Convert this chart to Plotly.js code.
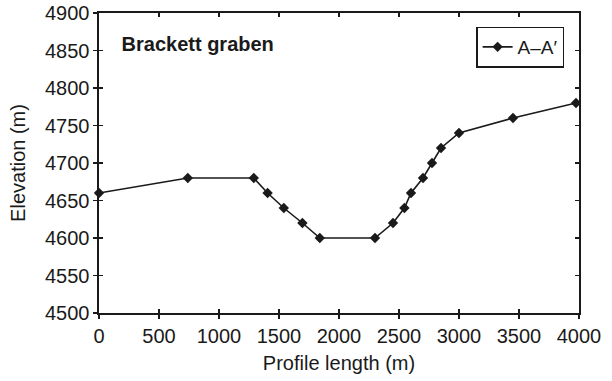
<!DOCTYPE html>
<html>
<head>
<meta charset="utf-8">
<script src="https://cdn.plot.ly/plotly-3.0.1.min.js"></script>
<style>
html,body{margin:0;padding:0;background:#fff;}
#chart{width:612px;height:381px;}
</style>
</head>
<body>
<div id="chart"></div>
<script>
// Data
const profileLength = [0, 740, 1290, 1405, 1540, 1695, 1840, 2300, 2450, 2545, 2600, 2700, 2775, 2850, 3000, 3450, 3975];
const elevation = [4660, 4680, 4680, 4660, 4640, 4620, 4600, 4600, 4620, 4640, 4660, 4680, 4700, 4720, 4740, 4760, 4780];
const xTicks = [0, 500, 1000, 1500, 2000, 2500, 3000, 3500, 4000];
const yTicks = [4500, 4550, 4600, 4650, 4700, 4750, 4800, 4850, 4900];
const seriesName = 'A\u2013A\u2032';
const chartTitle = 'Brackett graben';
const xTitle = 'Profile length (m)';
const yTitle = 'Elevation (m)';

const FONT = 'Liberation Sans, Arial, Helvetica, sans-serif';
const INK = '#1a1a1a';

const trace = {
  x: profileLength,
  y: elevation,
  type: 'scatter',
  mode: 'lines+markers',
  name: seriesName,
  line: {color: INK, width: 1.6},
  marker: {symbol: 'diamond', size: 8, color: INK},
  cliponaxis: false
};

// empty helper trace so the overlaid tick-only axes get drawn (no marks)
const tickAxesTrace = {
  x: [], y: [], type: 'scatter', mode: 'markers',
  xaxis: 'x2', yaxis: 'y2', showlegend: false, hoverinfo: 'skip'
};

const xRange = [xTicks[0], xTicks[xTicks.length - 1]];
const yRange = [yTicks[0], yTicks[yTicks.length - 1]];

const layout = {
  width: 612,
  height: 381,
  margin: {l: 99, r: 33, t: 13, b: 68},
  paper_bgcolor: '#fff',
  plot_bgcolor: '#fff',
  font: {family: FONT, color: INK, size: 20},
  showlegend: true,
  title: {
    text: '<b>' + chartTitle + '</b>',
    font: {family: FONT, size: 20, color: INK},
    xref: 'paper', x: 0.047, xanchor: 'left',
    yref: 'container', y: 0.885, yanchor: 'middle'
  },
  legend: {
    x: 0.969, xanchor: 'right',
    y: 0.955, yanchor: 'top',
    bordercolor: INK, borderwidth: 1.5,
    bgcolor: '#fff',
    font: {family: FONT, size: 19, color: INK}
  },
  xaxis: {
    range: xRange,
    tickvals: xTicks,
    ticktext: xTicks.map(String),
    ticks: 'outside', ticklen: 4, tickwidth: 1.5, tickcolor: INK,
    showline: true, linecolor: INK, linewidth: 1.6, mirror: true,
    showgrid: false, zeroline: false,
    tickfont: {family: FONT, size: 20, color: INK},
    title: {text: xTitle, font: {family: FONT, size: 20, color: INK}, standoff: 10}
  },
  yaxis: {
    range: yRange,
    tickvals: yTicks,
    ticktext: yTicks.map(String),
    ticks: 'outside', ticklen: 4, tickwidth: 1.5, tickcolor: INK,
    showline: true, linecolor: INK, linewidth: 1.6, mirror: true,
    showgrid: false, zeroline: false,
    tickfont: {family: FONT, size: 20, color: INK},
    title: {text: yTitle, font: {family: FONT, size: 20, color: INK}, standoff: 14}
  },
  xaxis2: {
    range: xRange, tickvals: xTicks, overlaying: 'x', anchor: 'y2', side: 'bottom',
    ticks: 'inside', ticklen: 4, tickwidth: 1.5, tickcolor: INK, mirror: 'ticks',
    showline: false, showgrid: false, zeroline: false, showticklabels: false
  },
  yaxis2: {
    range: yRange, tickvals: yTicks, overlaying: 'y', anchor: 'x2', side: 'left',
    ticks: 'inside', ticklen: 4, tickwidth: 1.5, tickcolor: INK, mirror: 'ticks',
    showline: false, showgrid: false, zeroline: false, showticklabels: false
  }
};

Plotly.newPlot('chart', [trace, tickAxesTrace], layout, {displayModeBar: false, staticPlot: true});
</script>
</body>
</html>
